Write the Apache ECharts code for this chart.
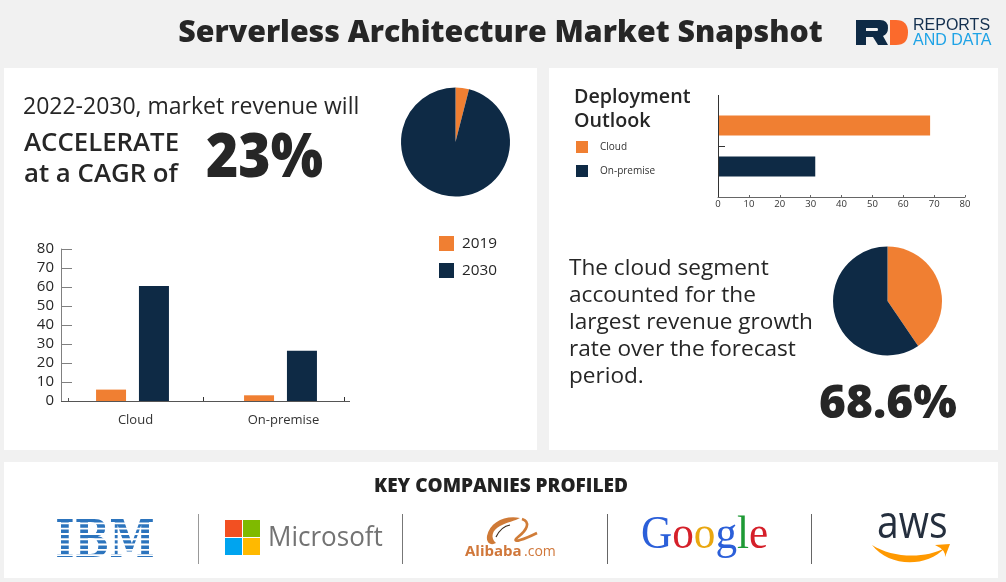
<!DOCTYPE html>
<html lang="en">
  <head>
    <meta charset="UTF-8" />
    <title>Serverless Architecture Market Snapshot</title>
    <script src="https://cdn.jsdelivr.net/npm/echarts@6/dist/echarts.min.js"></script>
    <style>
      html, body { margin: 0; padding: 0; background: #f1f1f1; }
      #main { width: 1006px; height: 582px; }
    </style>
  </head>
  <body>
    <div id="main"></div>
    <script>
      // data
      const segments = ["Cloud", "On-premise"];
      const values2019 = [6, 3];
      const values2030 = [60.5, 26.5];
      const yTicks = [0, 80, 10];
      const outlookCloud = [68.7, null];
      const outlookOnPremise = [null, 31.5];
      const revenueShare = [4, 96];
      const cloudShare = [40.5, 59.5];

      const ORANGE = "#f07f32";
      const NAVY = "#0e2a45";
      const INK = "#262626";
      const AXIS = "#808080";
      const FONT = '"Open Sans", "Noto Sans", sans-serif';

      const introLines = [
        ["2022-2030, market revenue will", 23, 107, 23, 400],
        ["ACCELERATE", 24, 144, 25.8, 600],
        ["at a CAGR of", 24, 175, 25.8, 600],
      ];
      const cloudLines = [
        "The cloud segment",
        "accounted for the",
        "largest revenue growth",
        "rate over the forecast",
        "period.",
      ];

      function label(text, x, y, size, weight, fill, align, family) {
        return {
          type: "text",
          x: x,
          y: y,
          z: 5,
          style: {
            text: text,
            fontFamily: family || FONT,
            fontSize: size,
            fontWeight: weight,
            fill: fill || INK,
            textAlign: align || "left",
            textVerticalAlign: "middle",
          },
        };
      }
      function rule(x1, y1, x2, y2, color, width) {
        return {
          type: "line",
          z: 5,
          shape: { x1: x1, y1: y1, x2: x2, y2: y2 },
          style: { stroke: color, lineWidth: width || 1 },
        };
      }
      function box(x, y, w, h, fill, z) {
        return {
          type: "rect",
          z: z === undefined ? 5 : z,
          shape: { x: x, y: y, width: w, height: h },
          style: { fill: fill },
        };
      }
      // the graphic component has no path type, so each logo outline is registered as a shape
      let shapeCount = 0;
      function draw(path, fill, stroke, width) {
        const name = "logoShape" + shapeCount++;
        echarts.graphic.registerShape(name, echarts.graphic.extendPath(path, {}));
        return {
          type: name,
          z: 5,
          style: { fill: fill || "none", stroke: stroke || "none", lineWidth: width || 0 },
        };
      }
      function squeezed(el, scaleX) {
        el.scaleX = scaleX;
        return el;
      }

      const graphics = [
        box(4, 68, 533, 382, "#fff", -1),
        box(549, 68, 449, 382, "#fff", -1),
        box(4, 462, 994, 116, "#fff", -1),
        label("Serverless Architecture Market Snapshot", 500.5, 33, 30.3, 800, INK, "center"),
        squeezed(label("23%", 206, 159, 62, 800), 0.89),
        label("Deployment", 574, 97, 19.7, 600),
        label("Outlook", 574, 121, 19.7, 600),
        label("68.6%", 819, 405, 46, 800),
        label("KEY COMPANIES PROFILED", 501, 487, 19, 800, "#222", "center"),
        // first bar chart baseline
        rule(61, 401.5, 350, 401.5, "#555"),
        rule(68.5, 398, 68.5, 401, "#555"),
        rule(203.5, 397, 203.5, 401, "#333"),
        rule(344.5, 397, 344.5, 401, "#333"),
        // outlook axis
        rule(718.5, 95, 718.5, 197, "#333"),
        rule(718, 146.5, 725, 146.5, "#333"),
        // dividers
        rule(198.5, 514, 198.5, 564, "#999"),
        rule(402.5, 514, 402.5, 564, "#777"),
        rule(607.5, 514, 607.5, 564, "#666"),
        rule(811.5, 514, 811.5, 564, "#666"),
        // RD logo
        draw("M856 20H880Q888 20 888 28Q888 34 883 36L888 45H878L873 37H866V45H856ZM866 28V31H877Q878 31 878 29.5Q878 28 877 28Z", NAVY),
        draw("M890 20H896Q908 20 908 32.5Q908 45 896 45H890Z", "#fb6a2c"),
        label("REPORTS", 913, 26, 16, 400, "#14304f", "left", '"Liberation Sans", sans-serif'),
        label("AND DATA", 913, 41, 16, 400, "#1fa3e6", "left", '"Liberation Sans", sans-serif'),
        // Microsoft
        box(225, 520, 17, 17, "#f25022"),
        box(243, 520, 17, 17, "#7fba00"),
        box(225, 538, 17, 17, "#00a4ef"),
        box(243, 538, 17, 17, "#ffb900"),
        squeezed(label("Microsoft", 268, 538, 28, 500, "#737373"), 0.93),
        // Alibaba
        draw("M520 518C505 515 490 522 487 536C486 543 491 546 496 543C490 538 492 530 500 526C507 522 515 521 520 518Z", "#cf7a37"),
        draw("M496 537C499 531 503 526 510 525", "none", "#3a2a1c", 1.2),
        draw("M522 519C531 522 527 530 518 537C514 540 515 542 520 540C527 538 533 535 537 533", "none", "#d07c38", 2.6),
        label("Alibaba", 465, 552, 15, 700, "#d0773a"),
        label(".com", 524, 552, 14, 400, "#d0773a"),
        // aws
        squeezed(label("aws", 877, 525, 46, 500, "#252f3e"), 0.85),
        draw("M872 545C892 558 925 559 945 548C926 568 889 567 872 545Z", "#f90"),
        draw("M935 545L950 544L945 557Q946 550 935 545Z", "#f90"),
        // Google
        {
          type: "text",
          x: 641,
          y: 536,
          z: 5,
          scaleX: 0.92,
          style: {
            text: "{b|G}{r|o}{y|o}{b|g}{g|l}{r|e}",
            textVerticalAlign: "middle",
            rich: {
              b: { fill: "#2b5fd9", fontFamily: '"Liberation Serif", serif', fontSize: 47 },
              r: { fill: "#d5202a", fontFamily: '"Liberation Serif", serif', fontSize: 47 },
              y: { fill: "#e9a70f", fontFamily: '"Liberation Serif", serif', fontSize: 47 },
              g: { fill: "#1e9a35", fontFamily: '"Liberation Serif", serif', fontSize: 47 },
            },
          },
        },
        // IBM
        squeezed(label("IBM", 105, 543, 52, 700, "#2c74bd", "center", '"DejaVu Serif", serif'), 0.79),
      ];
      introLines.forEach((l) => graphics.push(label(l[0], l[1], l[2], l[3], l[4])));
      cloudLines.forEach((l, i) => graphics.push(label(l, 569, 269 + i * 27, 22.6, 400)));
      // IBM stripes
      for (let i = 0; i < 7; i++) {
        graphics.push(box(50, 522.4 + i * 5.3, 110, 1.9, "#fff", 6));
      }

      const myChart = echarts.init(document.getElementById("main"), null, { renderer: "canvas" });

      const option = {
        animation: false,
        backgroundColor: "#f1f1f1",
        textStyle: { fontFamily: FONT },
        legend: [
          {
            data: ["2019", "2030"],
            orient: "vertical",
            left: 439,
            top: 236,
            padding: 0,
            icon: "rect",
            itemWidth: 15,
            itemHeight: 15,
            itemGap: 12,
            selectedMode: false,
            textStyle: { fontSize: 15.3, color: INK, padding: [2, 0, 0, 3], fontFamily: FONT },
          },
          {
            data: ["Cloud", "On-premise"],
            orient: "vertical",
            left: 576,
            top: 141,
            padding: 0,
            icon: "rect",
            itemWidth: 12,
            itemHeight: 12,
            itemGap: 12,
            selectedMode: false,
            textStyle: { fontSize: 10, color: "#333", padding: [0, 0, 0, 7], fontFamily: FONT },
          },
        ],
        grid: [
          { left: 58.5, top: 249, width: 296, height: 152 },
          { left: 718, top: 105, width: 247, height: 82 },
        ],
        xAxis: [
          {
            gridIndex: 0,
            type: "category",
            data: segments,
            axisLine: { show: false },
            axisTick: { show: false },
            axisLabel: { color: "#333", fontSize: 13, margin: 13, padding: [0, 0, 0, 6], fontFamily: FONT },
          },
          {
            gridIndex: 1,
            type: "value",
            min: 0,
            max: 80,
            interval: 10,
            offset: 10,
            splitLine: { show: false },
            axisLine: { show: true, lineStyle: { color: "#666" } },
            axisTick: { show: true, inside: true, length: 2, lineStyle: { color: "#666" } },
            axisLabel: { color: "#333", fontSize: 9.5, margin: 2, fontFamily: FONT },
          },
        ],
        yAxis: [
          {
            gridIndex: 0,
            type: "value",
            min: yTicks[0],
            max: yTicks[1],
            interval: yTicks[2],
            offset: -2.5,
            splitLine: { show: false },
            axisLine: { show: true, lineStyle: { color: AXIS } },
            axisTick: { show: true, inside: true, length: 11, lineStyle: { color: AXIS } },
            axisLabel: { color: INK, fontSize: 15, margin: 7, padding: [4, 0, 0, 0], fontFamily: FONT },
          },
          {
            gridIndex: 1,
            type: "category",
            inverse: true,
            data: segments,
            axisLine: { show: false },
            axisTick: { show: false },
            axisLabel: { show: false },
          },
        ],
        series: [
          {
            name: "2019",
            type: "bar",
            xAxisIndex: 0,
            yAxisIndex: 0,
            barWidth: 30,
            barGap: "43%",
            data: values2019,
            itemStyle: { color: ORANGE },
          },
          {
            name: "2030",
            type: "bar",
            xAxisIndex: 0,
            yAxisIndex: 0,
            barWidth: 30,
            barGap: "43%",
            data: values2030,
            itemStyle: { color: NAVY },
          },
          {
            name: "Cloud",
            type: "bar",
            xAxisIndex: 1,
            yAxisIndex: 1,
            stack: "outlook",
            barWidth: 20,
            data: outlookCloud,
            itemStyle: { color: ORANGE },
          },
          {
            name: "On-premise",
            type: "bar",
            xAxisIndex: 1,
            yAxisIndex: 1,
            stack: "outlook",
            barWidth: 20,
            data: outlookOnPremise,
            itemStyle: { color: NAVY },
          },
          {
            type: "pie",
            center: [455.5, 142],
            radius: [0, 54.5],
            startAngle: 90,
            label: { show: false },
            labelLine: { show: false },
            data: [
              { value: revenueShare[0], name: "2019", itemStyle: { color: ORANGE } },
              { value: revenueShare[1], name: "2030", itemStyle: { color: NAVY } },
            ],
          },
          {
            type: "pie",
            center: [887.5, 301],
            radius: [0, 54.5],
            startAngle: 90,
            label: { show: false },
            labelLine: { show: false },
            data: [
              { value: cloudShare[0], name: "Cloud", itemStyle: { color: ORANGE } },
              { value: cloudShare[1], name: "On-premise", itemStyle: { color: NAVY } },
            ],
          },
        ],
        graphic: { elements: graphics },
      };

      myChart.setOption(option);
    </script>
  </body>
</html>
